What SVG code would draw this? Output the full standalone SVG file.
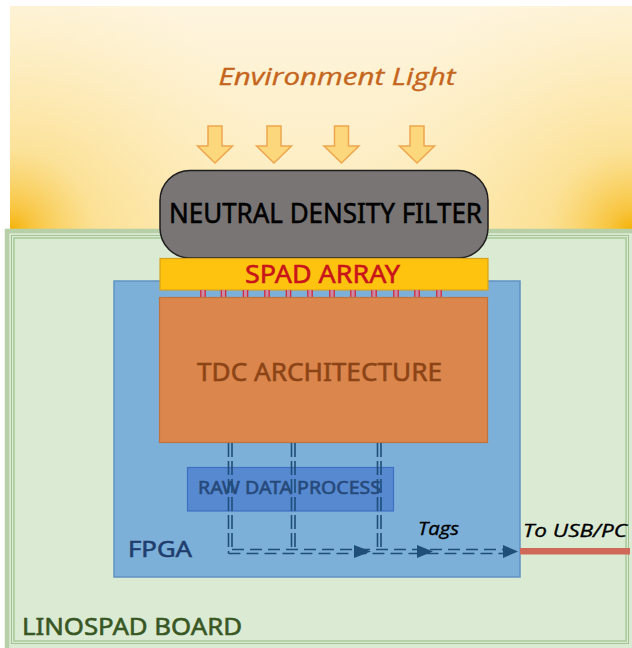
<svg xmlns="http://www.w3.org/2000/svg" width="632" height="648" viewBox="0 0 632 648">
  <style>
    .lbl { font-family: "Noto Sans", "Open Sans", "Liberation Sans", sans-serif; stroke-width: 0.55; }
    .it { font-family: "Open Sans", "Noto Sans", "Liberation Sans", sans-serif; font-style: italic; stroke-width: 0.35; }
    .lightArrow { fill: #fdd77c; stroke: #eea64d; stroke-width: 1.5; stroke-linejoin: miter; }
    .tickFill { fill: #c98aa8; }
    .tickEdge { stroke: #d2232e; stroke-width: 1.2; }
    .bus { fill: none; stroke: #1f4e79; stroke-width: 1.6; }
    .busV { stroke-dasharray: 14 4; }
    .busH { stroke-dasharray: 12 6; }
    .head { fill: #1f4e79; }
  </style>
  <defs>
    <linearGradient id="skyBase" x1="0" y1="0" x2="0" y2="1">
      <stop offset="0" stop-color="#fef5df"/>
      <stop offset="1" stop-color="#fdebb9"/>
    </linearGradient>
    <radialGradient id="glowL" gradientUnits="userSpaceOnUse" cx="10" cy="232" r="280">
      <stop offset="0" stop-color="#f4b000" stop-opacity="1"/>
      <stop offset="0.08" stop-color="#f7c030" stop-opacity="0.9"/>
      <stop offset="0.3" stop-color="#fad66e" stop-opacity="0.5"/>
      <stop offset="1" stop-color="#fde9b0" stop-opacity="0"/>
    </radialGradient>
    <radialGradient id="glowR" gradientUnits="userSpaceOnUse" cx="632" cy="232" r="280">
      <stop offset="0" stop-color="#f4b000" stop-opacity="1"/>
      <stop offset="0.08" stop-color="#f7c030" stop-opacity="0.9"/>
      <stop offset="0.3" stop-color="#fad66e" stop-opacity="0.5"/>
      <stop offset="1" stop-color="#fde9b0" stop-opacity="0"/>
    </radialGradient>
    <path id="downArrow" class="lightArrow" d="M -7 0 H 7 V 20 H 17.5 L 0 37 L -17.5 20 H -7 Z"/>
    <g id="padTick">
      <rect class="tickFill" x="-2.5" y="290" width="5" height="8"/>
      <path class="tickEdge" d="M -2.2 290 V 298 M 2.2 290 V 298"/>
    </g>
  </defs>

  <!-- ambient light background -->
  <rect x="10" y="6" width="622" height="226" fill="url(#skyBase)"/>
  <rect x="10" y="6" width="622" height="226" fill="url(#glowL)"/>
  <rect x="10" y="6" width="622" height="226" fill="url(#glowR)"/>

  <g id="environment-light">
    <text class="it" x="337" y="85" font-size="24" fill="#c5651c" stroke="#c5651c" text-anchor="middle" textLength="237" lengthAdjust="spacingAndGlyphs">Environment Light</text>
    <use href="#downArrow" x="215" y="126"/>
    <use href="#downArrow" x="274" y="126"/>
    <use href="#downArrow" x="341.5" y="126"/>
    <use href="#downArrow" x="417" y="126"/>
  </g>

  <g id="linospad-board">
    <rect x="7" y="231" width="630" height="420" fill="#dbead3" stroke="#b7d0a8" stroke-width="4.5"/>
    <rect x="11.5" y="235.5" width="617" height="408" fill="none" stroke="#a3c392" stroke-width="1"/>
    <rect x="14" y="238" width="612" height="403" fill="none" stroke="#a8c898" stroke-width="1.5"/>
    <text class="lbl" x="22" y="635" font-size="23" fill="#385723" stroke="#385723" textLength="220" lengthAdjust="spacingAndGlyphs">LINOSPAD BOARD</text>
  </g>

  <g id="fpga">
    <rect x="114" y="281" width="406" height="296" fill="#7db0d8" stroke="#5f92c2" stroke-width="1.5"/>
    <text class="lbl" x="128" y="557" font-size="21" fill="#1f3e6e" stroke="#1f3e6e" textLength="64" lengthAdjust="spacingAndGlyphs">FPGA</text>
  </g>

  <g id="neutral-density-filter">
    <rect x="160" y="170.5" width="328" height="87.5" rx="30" ry="30" fill="#787574" stroke="#1e1e1e" stroke-width="1.5"/>
    <text class="lbl" x="169" y="223" font-size="26.5" fill="#000" stroke="#000" textLength="313" lengthAdjust="spacingAndGlyphs">NEUTRAL DENSITY FILTER</text>
  </g>

  <g id="spad-array">
    <rect x="160" y="258.5" width="328" height="31.5" fill="#fdc30f" stroke="#d9a11c" stroke-width="1.2"/>
    <text class="lbl" x="245" y="283" font-size="25" fill="#c8141a" stroke="#c8141a" textLength="155" lengthAdjust="spacingAndGlyphs">SPAD ARRAY</text>
  </g>

  <g id="pixel-links">
    <use href="#padTick" x="203"/>
    <use href="#padTick" x="223.5"/>
    <use href="#padTick" x="245.5"/>
    <use href="#padTick" x="267"/>
    <use href="#padTick" x="288.5"/>
    <use href="#padTick" x="310"/>
    <use href="#padTick" x="332"/>
    <use href="#padTick" x="353"/>
    <use href="#padTick" x="374"/>
    <use href="#padTick" x="396"/>
    <use href="#padTick" x="417"/>
    <use href="#padTick" x="439"/>
  </g>

  <g id="tdc-architecture">
    <rect x="159.5" y="297.5" width="328" height="145" fill="#da864c" stroke="#c0733e" stroke-width="1.2"/>
    <text class="lbl" x="197" y="381" font-size="26" fill="#8c4416" stroke="#8c4416" textLength="245" lengthAdjust="spacingAndGlyphs">TDC ARCHITECTURE</text>
  </g>

  <g id="raw-data-process">
    <rect x="187.5" y="467.5" width="206" height="43.5" fill="#4f83cf" fill-opacity="0.85" stroke="#3d70c2" stroke-width="1.2"/>
    <text class="lbl" x="198" y="494" font-size="18" fill="#26497a" stroke="#26497a" textLength="183" lengthAdjust="spacingAndGlyphs">RAW DATA PROCESS</text>
  </g>

  <g id="connectors">
    <!-- tag bus: three vertical double lines merging into the output line -->
    <path class="bus busV" d="M 228.5 443 V 553.5"/>
    <path class="bus busV" d="M 232 443 V 549.5"/>
    <path class="bus busV" d="M 291.5 443 V 549.5"/>
    <path class="bus busV" d="M 295 443 V 549.5"/>
    <path class="bus busV" d="M 377.5 443 V 549.5"/>
    <path class="bus busV" d="M 381 443 V 549.5"/>
    <path class="bus busH" d="M 228.5 553.5 H 506"/>
    <path class="bus busH" d="M 232 549.5 H 506"/>
    <path class="head" d="M 354 545 L 371 551.5 L 354 558 Z"/>
    <path class="head" d="M 417 545 L 433 551.5 L 417 558 Z"/>
    <path class="head" d="M 503 545 L 518 551.5 L 503 558 Z"/>
    <text class="it" x="418" y="535" font-size="18" fill="#000" stroke="#000" textLength="41" lengthAdjust="spacingAndGlyphs">Tags</text>
    <!-- link to host -->
    <rect x="520" y="548" width="110" height="6.5" fill="#d0685a"/>
    <text class="it" x="523" y="537" font-size="19" fill="#000" stroke="#000" textLength="104" lengthAdjust="spacingAndGlyphs">To USB/PC</text>
  </g>
</svg>
